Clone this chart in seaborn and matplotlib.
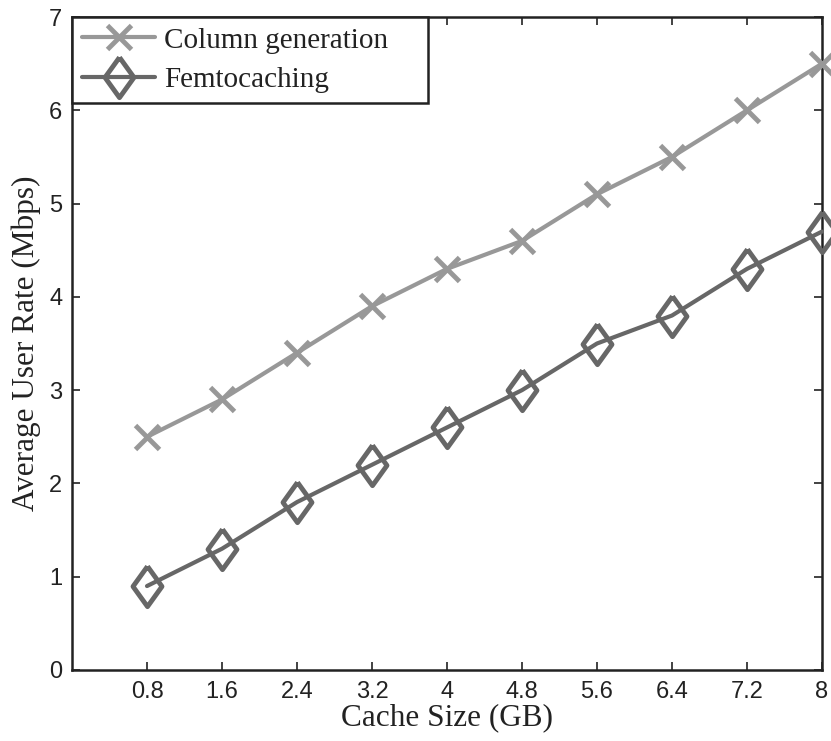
import numpy as np
import pandas as pd
import matplotlib
matplotlib.use('Agg')
import matplotlib.pyplot as plt
import seaborn as sns

cache_size = [0.8, 1.6, 2.4, 3.2, 4.0, 4.8, 5.6, 6.4, 7.2, 8.0]
column_generation = [2.5, 2.9, 3.4, 3.9, 4.3, 4.6, 5.1, 5.5, 6.0, 6.5]
femtocaching = [0.9, 1.3, 1.8, 2.2, 2.6, 3.0, 3.5, 3.8, 4.3, 4.7]
x_tick_labels = ['0.8', '1.6', '2.4', '3.2', '4', '4.8', '5.6', '6.4', '7.2', '8']

# slightly narrow diamond like the matlab one
diamond = [(0, 1), (0.72, 0), (0, -1), (-0.72, 0), (0, 1)]


def main():
    sns.set_style('ticks')
    plt.rcParams['font.family'] = ['Liberation Sans', 'DejaVu Sans']

    fig = plt.figure(figsize=(8.31, 7.41), dpi=100)
    ax = fig.add_axes([72 / 831, 1 - 670 / 741, 750 / 831, 653 / 741])

    light = '#989898'
    dark = '#676767'

    # Column generation: light gray with x markers
    sns.lineplot(x=cache_size, y=column_generation, color=light, linewidth=3,
                 marker='x', markersize=17, markeredgewidth=3.5,
                 markeredgecolor=light, ax=ax, label='Column generation',
                 clip_on=False, zorder=3)
    # Femtocaching: dark gray with hollow diamonds
    sns.lineplot(x=cache_size, y=femtocaching, color=dark, linewidth=3,
                 marker=diamond, markersize=29, markeredgewidth=3.5,
                 markerfacecolor='none', markeredgecolor=dark, ax=ax,
                 label='Femtocaching', clip_on=False, zorder=3)

    ax.set_xlim(0, 8)
    ax.set_ylim(0, 7)
    ax.set_xticks(cache_size)
    ax.set_xticklabels(x_tick_labels)
    ax.set_yticks(range(0, 8))
    ax.tick_params(direction='in', top=True, right=True, length=6, width=1.2,
                   labelsize=17, colors='#222222')
    ax.tick_params(axis='x', pad=8)
    ax.tick_params(axis='y', pad=7)
    for s in ax.spines.values():
        s.set_visible(True)
        s.set_linewidth(1.8)
        s.set_color('#222222')

    ax.set_xlabel('Cache Size (GB)', family='Liberation Serif', fontsize=22.5,
                  labelpad=0, color='#222222')
    ax.set_ylabel('Average User Rate (Mbps)', family='Liberation Serif', fontsize=22.5,
                  labelpad=6, color='#222222')

    # matlab-style legend box, wider than its text
    leg = ax.legend(loc='upper left', bbox_to_anchor=(0, 0, 356 / 750, 1), mode='expand',
                    borderaxespad=0, fancybox=False, framealpha=1,
                    edgecolor='#222222', prop={'family': 'Liberation Serif', 'size': 21},
                    handlelength=2.5, handletextpad=0.3, borderpad=0.35, labelspacing=0.45)
    leg.get_frame().set_linewidth(1.8)
    for t in leg.get_texts():
        t.set_color('#222222')

    fig.savefig('out.png', dpi=100)


if __name__ == '__main__':
    main()
